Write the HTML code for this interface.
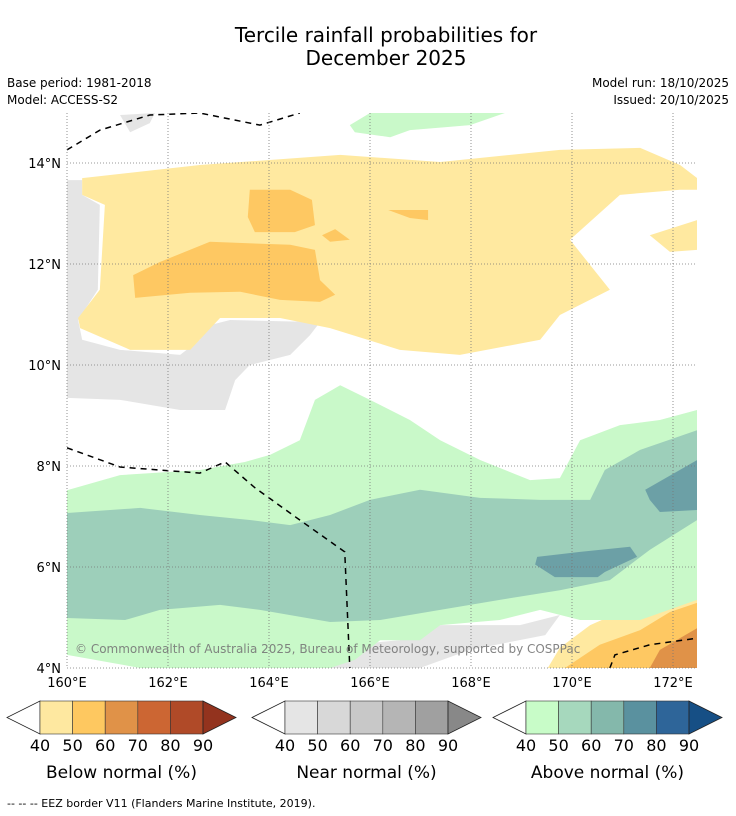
<!DOCTYPE html>
<html><head><meta charset="utf-8"><style>
body{margin:0;background:#fff;font-family:"Liberation Sans","DejaVu Sans",sans-serif}
svg{display:block}
</style></head><body>
<svg id="chart" width="736" height="816" viewBox="0 0 736 816" xmlns="http://www.w3.org/2000/svg" font-family="DejaVu Sans, Liberation Sans, sans-serif">
<rect width="736" height="816" fill="#fff"/>
<text x="386" y="42" font-size="20" text-anchor="middle">Tercile rainfall probabilities for</text>
<text x="386" y="65" font-size="20" text-anchor="middle">December 2025</text>
<text x="7" y="87" font-size="12">Base period: 1981-2018</text>
<text x="7" y="104" font-size="12">Model: ACCESS-S2</text>
<text x="729" y="87" font-size="12" text-anchor="end">Model run: 18/10/2025</text>
<text x="729" y="104" font-size="12" text-anchor="end">Issued: 20/10/2025</text>
<defs><clipPath id="mapclip"><rect x="67" y="113" width="630" height="555"/></clipPath></defs>
<g id="map" clip-path="url(#mapclip)"></g>
<g id="grid"></g>
<g id="axes"></g>
<text x="75" y="653" font-size="12" fill="#777" fill-opacity="0.9">© Commonwealth of Australia 2025, Bureau of Meteorology, supported by COSPPac</text>
<g id="legends"></g>
<text x="7" y="807" font-size="11">--  --  -- EEZ border V11 (Flanders Marine Institute, 2019).</text>
</svg>
<script>
const lonTicks=[160,162,164,166,168,170,172];
const latTicks=[4,6,8,10,12,14];
const grayRegions=[
 [[160,13.66],[160.30,13.66],[160.30,13.37],[160.65,13.17],[160.61,11.49],[160.22,10.89],[160.30,10.50],[161.05,10.30],[162.24,10.20],[162.63,10.50],[162.83,10.79],[163.23,10.89],[165.01,10.85],[164.81,10.59],[164.42,10.20],[163.62,10.00],[163.33,9.70],[163.13,9.11],[162.24,9.11],[161.05,9.31],[160,9.35]],
 [[161.05,14.95],[161.74,14.99],[161.64,14.79],[161.25,14.61]],
 [[166.59,4.55],[167.39,4.85],[168.97,4.85],[169.76,5.05],[169.47,4.65],[167.98,4.36],[166.99,4.0],[161.45,4.0],[161.64,4.16],[164.61,4.36],[165.60,4.46]],
 [[172.14,5.93],[172.48,6.10],[172.48,5.35],[171.15,5.25]]
];
const below40=[
 [[160.30,13.70],[162.63,13.96],[165.41,14.16],[167.39,14.02],[169.76,14.26],[171.35,14.30],[172.14,13.96],[172.48,13.70],[172.48,13.47],[172.14,13.47],[170.95,13.37],[169.96,12.48],[170.75,11.49],[169.76,10.99],[169.37,10.50],[167.78,10.20],[166.59,10.30],[165.21,10.73],[164.22,10.93],[163.03,10.93],[162.44,10.30],[161.25,10.30],[160.26,10.73],[160.22,10.93],[160.65,11.49],[160.75,13.17],[160.30,13.37]],
 [[171.54,12.57],[172.48,12.87],[172.48,12.28],[171.94,12.24]],
 [[169.76,4.40],[170.36,4.85],[170.95,5.11],[171.54,5.25],[172.48,5.49],[172.48,4.0],[169.52,4.0]]
];
const below50=[
 [[163.62,13.47],[164.42,13.47],[164.85,13.27],[164.91,12.77],[164.51,12.63],[163.72,12.63],[163.58,12.93]],
 [[161.31,11.78],[161.84,12.04],[162.83,12.44],[164.42,12.38],[164.91,12.28],[165.01,11.68],[165.31,11.39],[165.01,11.25],[164.22,11.29],[163.43,11.45],[162.44,11.43],[161.35,11.33]],
 [[165.05,12.57],[165.31,12.69],[165.60,12.48],[165.21,12.44]],
 [[166.36,13.07],[167.15,13.07],[167.15,12.87],[166.79,12.91]],
 [[169.86,4.0],[170.55,4.46],[171.35,4.75],[171.94,5.11],[172.48,5.29],[172.48,4.0]]
];
const below60=[[[171.54,4.0],[171.74,4.36],[172.48,4.79],[172.48,4.0]]];
const above40=[
 [[160,7.52],[161.05,7.82],[162.63,7.92],[163.52,8.08],[164.02,8.22],[164.61,8.51],[164.91,9.31],[165.41,9.60],[166.0,9.31],[166.79,8.91],[167.39,8.51],[168.18,8.12],[169.17,7.72],[169.76,7.76],[170.16,8.51],[170.95,8.81],[171.74,8.91],[172.48,9.11],[172.48,5.35],[171.35,4.95],[170.16,4.95],[169.37,5.15],[168.57,4.95],[167.39,4.85],[166.99,4.55],[166.20,4.55],[165.70,4.16],[165.21,4.0],[161.45,4.0],[160,4.26]],
 [[165.60,14.75],[166.0,14.99],[168.67,14.99],[167.98,14.75],[166.79,14.65],[166.40,14.51],[165.70,14.61]]
];
const above50=[
 [[160,7.07],[161.45,7.17],[162.63,7.03],[163.62,6.93],[164.42,6.83],[165.21,7.03],[166.0,7.33],[166.99,7.53],[168.18,7.37],[169.37,7.33],[170.36,7.33],[170.65,7.92],[171.35,8.32],[172.48,8.71],[172.48,6.93],[171.54,6.34],[170.75,5.74],[169.76,5.54],[168.57,5.35],[167.39,5.15],[166.20,4.95],[165.21,4.91],[163.82,5.15],[163.03,5.25],[161.84,5.15],[161.15,4.95],[160,4.99]]
];
const above60=[
 [[171.45,7.53],[172.48,8.12],[172.48,7.13],[171.74,7.09],[171.54,7.33]],
 [[169.31,6.20],[170.16,6.30],[171.15,6.40],[171.29,6.20],[170.65,5.90],[170.51,5.80],[169.66,5.80],[169.27,6.05]]
];
const eezLines=[
 [[160,14.26],[160.65,14.65],[161.64,14.95],[162.63,14.99],[163.82,14.75],[164.61,14.99]],
 [[160,8.36],[161.05,7.98],[162.63,7.86],[163.13,8.08],[163.72,7.57],[164.61,6.93],[165.50,6.30],[165.60,4.0]],
 [[170.75,4.0],[170.85,4.26],[171.54,4.46],[172.48,4.59]]
];
const legendTicks=[40,50,60,70,80,90];
const belowColors=["#fee8a0","#fec860","#e09248","#cc6633","#b04a28","#93331e"];
const nearColors=["#e5e5e5","#d8d8d8","#c8c8c8","#b5b5b5","#a0a0a0","#888888"];
const aboveColors=["#c8fcc8","#a6d8bd","#84b8ab","#5a919f","#2e6599","#164f85"];
const legendTitles=["Below normal (%)","Near normal (%)","Above normal (%)"];

const NS="http://www.w3.org/2000/svg";
const X0=67,Y4=668,PX=50.5;
const xs=lon=>X0+(lon-160)*PX;
const ys=lat=>Y4-(lat-4)*PX;
function mk(tag,attrs,parent){const e=document.createElementNS(NS,tag);for(const k in attrs)e.setAttribute(k,attrs[k]);parent.appendChild(e);return e;}
const map=document.getElementById('map');
function drawLayer(polys,color,name){
 polys.forEach((p,i)=>{
  const e=mk('polygon',{points:p.map(q=>xs(q[0])+','+ys(q[1])).join(' '),fill:color},map);
  
  
 });
}
drawLayer(grayRegions,"#e5e5e5","near-normal-40");
drawLayer(below40,"#ffe9a0","below-normal-40");
drawLayer(below50,"#fec862","below-normal-50");
drawLayer(below60,"#e09248","below-normal-60");
drawLayer(above40,"#c9f9c9","above-normal-40");
drawLayer(above50,"#9dcfba","above-normal-50");
drawLayer(above60,"#6ca0a6","above-normal-60");
eezLines.forEach((l,i)=>{
 const e=mk('polyline',{points:l.map(q=>xs(q[0])+','+ys(q[1])).join(' '),fill:'none',stroke:'#000','stroke-width':1.5,'stroke-dasharray':'6,5'},map);
 
 
});
const grid=document.getElementById('grid'),axes=document.getElementById('axes');
lonTicks.forEach(v=>{
 const g=mk('line',{x1:xs(v),x2:xs(v),y1:113,y2:668,stroke:'#777','stroke-width':0.8,'stroke-dasharray':'1,2'},grid);
 
 
 const t=mk('text',{x:xs(v),y:687,'font-size':13,'text-anchor':'middle'},axes);t.textContent=v+'°E';
 
 
});
latTicks.forEach(v=>{
 const g=mk('line',{x1:67,x2:697,y1:ys(v),y2:ys(v),stroke:'#777','stroke-width':0.8,'stroke-dasharray':'1,2'},grid);
 
 
 const t=mk('text',{x:61,y:ys(v)+5,'font-size':13,'text-anchor':'end'},axes);t.textContent=v+'°N';
 
 
});
const leg=document.getElementById('legends');
[[40,belowColors],[285,nearColors],[526,aboveColors]].forEach(([x0,cols],k)=>{
 const w=32.6,y0=701,h=33,n=legendTicks.length-1;
 const L=mk('polygon',{points:`${x0},${y0} ${x0},${y0+h} ${x0-33},${y0+h/2}`,fill:'#fff',stroke:'#222','stroke-width':0.8},leg);
 
 
 for(let i=0;i<n;i++){
  const r=mk('rect',{x:x0+i*w,y:y0,width:w,height:h,fill:cols[i],stroke:'#333','stroke-width':0.6},leg);
  
  
 }
 const xe=x0+n*w;
 const R=mk('polygon',{points:`${xe},${y0} ${xe},${y0+h} ${xe+33},${y0+h/2}`,fill:cols[n],stroke:'#222','stroke-width':0.8},leg);
 
 
 legendTicks.forEach((v,i)=>{
  const t=mk('text',{x:x0+i*w,y:751,'font-size':16,'text-anchor':'middle'},leg);t.textContent=v;
  
  
 });
 const tt=mk('text',{x:x0+n*w/2,y:778,'font-size':17,'text-anchor':'middle'},leg);tt.textContent=legendTitles[k];
 
 
});
</script>
</body></html>
